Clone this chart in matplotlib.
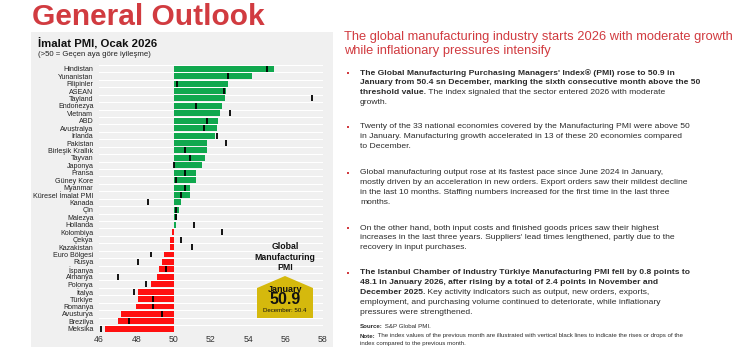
import matplotlib
matplotlib.use("Agg")
import matplotlib.pyplot as plt
from matplotlib.patches import Rectangle, Polygon
import numpy as np

plt.rcParams['font.family'] = ['Liberation Sans', 'DejaVu Sans']

countries = ["Hindistan", "Yunanistan", "Filipinler", "ASEAN", "Tayland", "Endonezya",
             "Vietnam", "ABD", "Avustralya", "İrlanda", "Pakistan", "Birleşik Krallık",
             "Tayvan", "Japonya", "Fransa", "Güney Kore", "Myanmar", "Küresel İmalat PMI",
             "Kanada", "Çin", "Malezya", "Hollanda", "Kolombiya", "Çekya", "Kazakistan",
             "Euro Bölgesi", "Rusya", "İspanya", "Almanya", "Polonya", "İtalya", "Türkiye",
             "Romanya", "Avusturya", "Brezilya", "Meksika"]
jan_2026 = [55.4, 54.2, 52.9, 52.8, 52.75, 52.6, 52.5, 52.4, 52.3, 52.2, 51.8, 51.8,
            51.7, 51.5, 51.2, 51.2, 50.9, 50.9, 50.4, 50.3, 50.2, 50.1, 49.9, 49.8, 49.8,
            49.5, 49.4, 49.2, 49.1, 48.8, 48.1, 48.1, 48.0, 47.2, 47.0, 46.3]
dec_2025 = [55.0, 52.9, 50.2, 52.7, 57.4, 51.2, 53.0, 51.8, 51.6, 52.3, 52.8, 50.6,
            50.9, 50.0, 50.6, 50.1, 50.6, 50.4, 48.6, 50.1, 50.1, 51.1, 52.6, 50.4, 51.0,
            48.8, 48.1, 49.6, 47.0, 48.5, 47.9, 48.9, 48.9, 49.4, 47.6, 46.1]
x_ticks = [46, 48, 50, 52, 54, 56, 58]

W, H = 740, 350
fig = plt.figure(figsize=(7.4, 3.5), dpi=100)
fig.patch.set_facecolor("white")

def fx(x):
    return x / W

def fy(y):
    return 1 - y / H

RED = "#d13b40"
TXT = "#2b2b2b"

# Slide title
fig.text(fx(32), fy(25), "General Outlook", color=RED, fontsize=21.5, weight="bold",
         va="baseline", ha="left")

# Chart panel
fig.patches.append(Rectangle((fx(31), fy(347)), fx(333 - 31), (347 - 32) / H,
                             transform=fig.transFigure, facecolor="#f0f0f0",
                             edgecolor="none", zorder=-5))
fig.text(fx(38), fy(44), "İmalat PMI, Ocak 2026", fontsize=8.2, weight="bold",
         color="#111111", va="center", ha="left")
fig.text(fx(38), fy(54), "(>50 = Geçen aya göre iyileşme)", fontsize=5.6,
         color="#222222", va="center", ha="left")

n = len(countries)
y_top, y_bot = 65.0, 332.5
ax = fig.add_axes([fx(99), fy(y_bot), fx(323 - 99), (y_bot - y_top) / H])
ax.set_zorder(2)
ax.set_facecolor("#f0f0f0")
ypos = np.arange(n)
jan = np.array(jan_2026)
dec = np.array(dec_2025)
colors = np.where(jan >= 50, "#10a84e", "#ff1010")
ax.barh(ypos, jan - 50, left=50, height=0.8, color=colors, zorder=2)
ax.vlines(dec, ypos - 0.4, ypos + 0.4, color="black", linewidth=1.3, zorder=3)
ax.set_xlim(46, 58)
ax.set_ylim(n - 0.5, -0.5)
for yb in np.arange(n + 1) - 0.5:
    ax.axhline(yb, color="white", linewidth=0.8, zorder=1)
ax.set_yticks(ypos)
ax.set_yticklabels(countries, fontsize=5.1, color="#222222")
ax.set_xticks(x_ticks)
ax.set_xticklabels([str(t) for t in x_ticks], fontsize=6.3, color="#333333")
ax.tick_params(length=0, pad=1.5)
ax.tick_params(axis="y", pad=4)
for s in ax.spines.values():
    s.set_visible(False)

# Badge
gi = countries.index("Küresel İmalat PMI")
fig.text(fx(285), fy(257), "Global\nManufacturing\nPMI", fontsize=6.3, weight="bold",
         color="#111111", ha="center", va="center", linespacing=1.15, zorder=5)
badge = Polygon([(fx(257), fy(288)), (fx(285), fy(276)), (fx(313), fy(288)),
                 (fx(313), fy(318)), (fx(257), fy(318))], closed=True,
                transform=fig.transFigure, facecolor="#d5b90d", edgecolor="none",
                zorder=4)
fig.patches.append(badge)
fig.text(fx(285), fy(289), "January", fontsize=6.5, weight="bold", color="#111111",
         ha="center", va="center", zorder=5)
fig.text(fx(285), fy(300), f"{jan_2026[gi]:.1f}", fontsize=11.5, weight="bold",
         color="#111111", ha="center", va="center", zorder=5)
fig.text(fx(285), fy(311), f"December: {dec_2025[gi]:.1f}", fontsize=4.4,
         color="#111111", ha="center", va="center", zorder=5)

# Right side text
fig.text(fx(344), fy(37), "The global manufacturing industry starts 2026 with moderate growth",
         fontsize=9.3, color=RED, ha="left", va="center")
fig.text(fx(344), fy(51), "while inflationary pressures intensify",
         fontsize=9.3, color=RED, ha="left", va="center")

renderer = fig.canvas.get_renderer()

def line(x, y, segs, size=6.1):
    cx = x
    for txt, bold in segs:
        t = fig.text(fx(cx), fy(y), txt, fontsize=size, color=TXT,
                     weight="bold" if bold else "normal", ha="left", va="center")
        bb = t.get_window_extent(renderer)
        cx += bb.width

def bullet(y):
    fig.patches.append(Rectangle((fx(346.5), fy(y + 1.3)), 2.6 / W, 2.6 / H,
                                 transform=fig.transFigure, facecolor=RED,
                                 edgecolor="none"))

X0 = 360
bullets = [
    (73, [[("The Global Manufacturing Purchasing Managers' Index® (PMI) rose to 50.9 in", True)],
          [("January from 50.4 sn December, marking the sixth consecutive month above the 50", True)],
          [("threshold value.", True), (" The index signaled that the sector entered 2026 with moderate", False)],
          [("growth.", False)]]),
    (127, [[("Twenty of the 33 national economies covered by the Manufacturing PMI were above 50", False)],
           [("in January. Manufacturing growth accelerated in 13 of these 20 economies compared", False)],
           [("to December.", False)]]),
    (173, [[("Global manufacturing output rose at its fastest pace since June 2024 in January,", False)],
           [("mostly driven by an acceleration in new orders. Export orders saw their mildest decline", False)],
           [("in the last 10 months. Staffing numbers increased for the first time in the last three", False)],
           [("months.", False)]]),
    (228, [[("On the other hand, both input costs and finished goods prices saw their highest", False)],
           [("increases in the last three years. Suppliers' lead times lengthened, partly due to the", False)],
           [("recovery in input purchases.", False)]]),
    (273, [[("The Istanbul Chamber of Industry Türkiye Manufacturing PMI fell by 0.8 points to", True)],
           [("48.1 in January 2026, after rising by a total of 2.4 points in November and", True)],
           [("December 2025.", True), (" Key activity indicators such as output, new orders, exports,", False)],
           [("employment, and purchasing volume continued to deteriorate, while inflationary", False)],
           [("pressures were strengthened.", False)]]),
]
for y0, lines in bullets:
    bullet(y0)
    for i, segs in enumerate(lines):
        line(X0, y0 + i * 9.9, segs)

line(X0, 326.5, [("Source:", True), (" S&P Global PMI.", False)], size=4.4)
line(X0, 336, [("Note:", True), (" The index values of the previous month are illustrated with vertical black lines to indicate the rises or drops of the", False)], size=4.4)
line(X0, 343, [("index compared to the previous month.", False)], size=4.4)

fig.savefig("out.png", dpi=100)
